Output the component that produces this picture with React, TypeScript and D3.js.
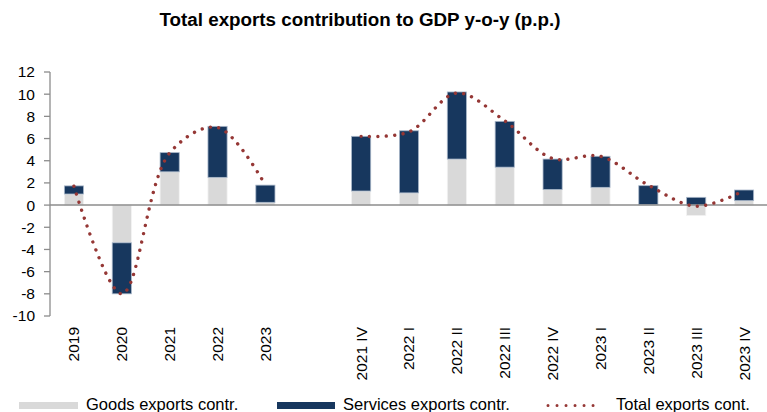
import React from "react";
import * as d3 from "d3";

const categories = ["2019", "2020", "2021", "2022", "2023", "", "2021 IV", "2022 I", "2022 II", "2022 III", "2022 IV", "2023 I", "2023 II", "2023 III", "2023 IV"];
const goods: (number | null)[] = [1.0, -3.4, 3.0, 2.5, 0.25, null, 1.27, 1.1, 4.15, 3.42, 1.4, 1.6, 0.03, -0.95, 0.4];
const services: (number | null)[] = [0.73, -4.6, 1.73, 4.6, 1.55, null, 4.93, 5.6, 6.05, 4.13, 2.75, 2.8, 1.72, 0.7, 0.96];
const totalA: number[] = [1.7, -8.0, 4.7, 7.0, 1.8];
const totalQ: number[] = [6.2, 6.6, 10.1, 7.6, 4.2, 4.4, 1.8, -0.1, 1.3];
const yTicks = [12, 10, 8, 6, 4, 2, 0, -2, -4, -6, -8, -10];
const legendLabels = ["Goods exports contr.", "Services exports contr.", "Total exports cont."];
const title = "Total exports contribution to GDP y-o-y (p.p.)";

const W = 767, H = 412;
const FONT = "'Liberation Sans', Arial, sans-serif";
const GOODS = "#d9d9d9";
const NAVY = "#17375e";
const RED = "#953735";

export default function App() {
  const x = d3.scaleBand<string>().domain(categories).range([50, 768]).paddingInner(0.6).paddingOuter(0.3);
  const y = d3.scaleLinear().domain([-10, 12]).range([316, 72]);

  const rows = categories.map((c, i) => ({ cat: c, goods: goods[i] ?? 0, services: services[i] ?? 0 }));
  const stack = d3.stack<any>().keys(["goods", "services"]).offset(d3.stackOffsetDiverging);
  const series = stack(rows);
  const colors: Record<string, string> = { goods: GOODS, services: NAVY };

  const line = d3.line<[string, number]>()
    .x(d => (x(d[0]) as number) + x.bandwidth() / 2)
    .y(d => y(d[1]))
    .curve(d3.curveCatmullRom.alpha(0.5));
  const segA = totalA.map((v, i) => [categories[i], v] as [string, number]);
  const segQ = totalQ.map((v, i) => [categories[i + 6], v] as [string, number]);

  const dotStyle = { fill: "none", stroke: RED, strokeWidth: 3.4, strokeLinecap: "round" as const, strokeDasharray: "0.01 8.4" };

  return (
    <svg width={W} height={H} style={{ position: "absolute", left: 0, top: 0, background: "#fff" }} fontFamily={FONT}>
      <text x={360} y={26} textAnchor="middle" fontWeight="bold" fontSize={18.8} fill="#000">{title}</text>

      {series.map(s => (
        <g key={s.key}>
          {s.map((d, i) => {
            if (categories[i] === "" || d[0] === d[1]) return null;
            const y0 = y(Math.max(d[0], d[1]));
            const y1 = y(Math.min(d[0], d[1]));
            return (
              <rect key={i} x={x(categories[i])} y={y0} width={x.bandwidth()} height={y1 - y0}
                fill={colors[s.key]} stroke={s.key === "services" ? "#a9b7c9" : "#f2f2f2"} strokeWidth={0.8} />
            );
          })}
        </g>
      ))}

      {/* y axis */}
      <line x1={50} x2={50} y1={72} y2={316} stroke="#8c8c8c" strokeWidth={1.3} />
      {yTicks.map(t => (
        <g key={t}>
          <line x1={44} x2={50} y1={y(t)} y2={y(t)} stroke="#8c8c8c" strokeWidth={1.3} />
          <text x={35} y={y(t)} dy="0.35em" textAnchor="end" fontSize={15.5} fill="#000">{t}</text>
        </g>
      ))}
      <line x1={50} x2={767} y1={y(0)} y2={y(0)} stroke="#8c8c8c" strokeWidth={1.5} />

      <path d={line(segA) || ""} {...dotStyle} />
      <path d={line(segQ) || ""} {...dotStyle} />

      {categories.map((c, i) => c === "" ? null : (
        <text key={i} transform={`translate(${(x(c) as number) + x.bandwidth() / 2},327) rotate(-90)`}
          dy="0.35em" textAnchor="end" fontSize={15.5} fill="#000">{c}</text>
      ))}

      {/* legend */}
      <rect x={19} y={402} width={59} height={7} fill={GOODS} />
      <text x={86} y={410} fontSize={16.5} fill="#000">{legendLabels[0]}</text>
      <rect x={277} y={402} width={58} height={7} fill={NAVY} />
      <text x={343} y={410} fontSize={16.5} fill="#000">{legendLabels[1]}</text>
      <line x1={548} x2={602} y1={405.5} y2={405.5} stroke={RED} strokeWidth={3} strokeLinecap="round" strokeDasharray="0.01 9" />
      <text x={616} y={410} fontSize={16.5} fill="#000">{legendLabels[2]}</text>
    </svg>
  );
}
